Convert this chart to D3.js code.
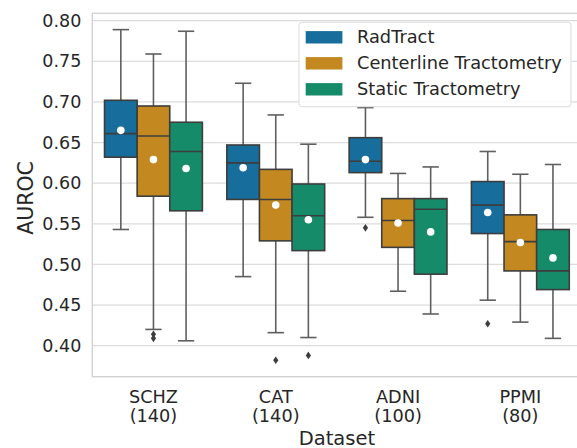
<!DOCTYPE html>
<html>
  <head>
    <meta charset="UTF-8" />
    <script src="https://cdn.jsdelivr.net/npm/d3@7"></script>
    <title>AUROC boxplot</title>
    <style type="text/css">
      body { margin: 0; background: #fff; }
      text { font-family: "DejaVu Sans", sans-serif; fill: #262626; }
    </style>
  </head>
  <body>
    <div id="chartcontainer"></div>
    <script>
      // datasets on the x axis and their sample sizes
      const datasets = ["SCHZ", "CAT", "ADNI", "PPMI"];
      const sizes = [140, 140, 100, 80];
      const methods = ["RadTract", "Centerline Tractometry", "Static Tractometry"];
      const colors = ["#176d9c", "#c38820", "#168b6a"];
      const yTicks = [0.4, 0.45, 0.5, 0.55, 0.6, 0.65, 0.7, 0.75, 0.8];

      // [lower whisker, q1, median, q3, upper whisker] per dataset
      const radTract = [
        [0.543, 0.632, 0.661, 0.702, 0.789],
        [0.485, 0.580, 0.625, 0.647, 0.723],
        [0.558, 0.613, 0.627, 0.656, 0.693],
        [0.456, 0.538, 0.573, 0.602, 0.639],
      ];
      const centerline = [
        [0.420, 0.584, 0.658, 0.695, 0.759],
        [0.416, 0.529, 0.580, 0.617, 0.684],
        [0.467, 0.521, 0.554, 0.581, 0.612],
        [0.429, 0.492, 0.528, 0.561, 0.611],
      ];
      const staticTract = [
        [0.406, 0.566, 0.639, 0.675, 0.787],
        [0.410, 0.517, 0.560, 0.599, 0.648],
        [0.439, 0.488, 0.568, 0.581, 0.620],
        [0.409, 0.469, 0.492, 0.543, 0.623],
      ];
      const radTractMeans = [0.665, 0.619, 0.629, 0.564];
      const centerlineMeans = [0.629, 0.573, 0.551, 0.527];
      const staticMeans = [0.618, 0.555, 0.540, 0.508];
      const radTractOutliers = [[], [], [0.545], [0.427]];
      const centerlineOutliers = [[0.414, 0.409], [0.382], [], []];
      const staticOutliers = [[], [0.388], [], []];

      const stats = [radTract, centerline, staticTract];
      const means = [radTractMeans, centerlineMeans, staticMeans];
      const outliers = [radTractOutliers, centerlineOutliers, staticOutliers];

      const W = 577, H = 448;
      const margin = { top: 13.3, left: 92.3 };
      const width = 489.2, height = 363.4;

      const svg = d3
        .select("#chartcontainer")
        .append("svg")
        .attr("width", W)
        .attr("height", H);

      const g = svg
        .append("g")
        .attr("transform", "translate(" + margin.left + "," + margin.top + ")");

      const x = d3.scaleBand().domain(datasets).range([0, width]);
      const xm = d3
        .scaleBand()
        .domain(methods)
        .range([x.bandwidth() * 0.1, x.bandwidth() * 0.9]);
      const y = d3.scaleLinear().domain([0.3618, 0.8091]).range([height, 0]);

      // grid
      g.selectAll(".grid")
        .data(yTicks)
        .enter()
        .append("line")
        .attr("x1", 0)
        .attr("x2", width)
        .attr("y1", (d) => y(d))
        .attr("y2", (d) => y(d))
        .attr("stroke", "#dcdcdc")
        .attr("stroke-width", 1.2);

      // frame
      g.append("rect")
        .attr("x", 0)
        .attr("y", 0)
        .attr("width", width)
        .attr("height", height)
        .attr("fill", "none")
        .attr("stroke", "#d0d0d0")
        .attr("stroke-width", 1.3);

      // y axis
      const yAxis = g
        .append("g")
        .call(d3.axisLeft(y).tickValues(yTicks).tickFormat(d3.format(".2f")).tickSize(0).tickPadding(11));
      yAxis.select(".domain").remove();
      yAxis.selectAll("text").style("font-size", "17.5px").style("fill", "#262626");

      // x axis
      const xAxis = g
        .append("g")
        .attr("transform", "translate(0," + height + ")")
        .call(d3.axisBottom(x).tickSize(0).tickFormat(""));
      xAxis.select(".domain").remove();
      xAxis
        .selectAll(".tick")
        .append("text")
        .attr("text-anchor", "middle")
        .style("font-size", "17.7px")
        .each(function (d, i) {
          const t = d3.select(this);
          t.append("tspan").attr("x", 0).attr("y", 26).text(d);
          t.append("tspan").attr("x", 0).attr("y", 45.5).text("(" + sizes[i] + ")");
        });

      // axis titles
      g.append("text")
        .attr("x", width / 2)
        .attr("y", height + 68)
        .attr("text-anchor", "middle")
        .style("font-size", "19.5px")
        .text("Dataset");
      g.append("text")
        .attr("transform", "translate(" + (-59) + "," + (height / 2 + 3) + ") rotate(-90)")
        .attr("text-anchor", "middle")
        .style("font-size", "20.5px")
        .text("AUROC");

      // boxes
      methods.forEach(function (m, mi) {
        datasets.forEach(function (ds, di) {
          const s = stats[mi][di];
          const x0 = x(ds) + xm(m);
          const bw = xm.bandwidth();
          const cx = x0 + bw / 2;
          const box = g.append("g");
          // whiskers
          box.append("line")
            .attr("x1", cx).attr("x2", cx)
            .attr("y1", y(s[0])).attr("y2", y(s[1]))
            .attr("stroke", "#5f5f5f").attr("stroke-width", 1.6);
          box.append("line")
            .attr("x1", cx).attr("x2", cx)
            .attr("y1", y(s[3])).attr("y2", y(s[4]))
            .attr("stroke", "#5f5f5f").attr("stroke-width", 1.6);
          [s[0], s[4]].forEach(function (v) {
            box.append("line")
              .attr("x1", cx - bw / 4).attr("x2", cx + bw / 4)
              .attr("y1", y(v)).attr("y2", y(v))
              .attr("stroke", "#5f5f5f").attr("stroke-width", 1.6);
          });
          box.append("rect")
            .attr("x", x0)
            .attr("y", y(s[3]))
            .attr("width", bw)
            .attr("height", y(s[1]) - y(s[3]))
            .attr("fill", colors[mi])
            .attr("stroke", "#3d3d3d")
            .attr("stroke-width", 1.6);
          box.append("line")
            .attr("x1", x0).attr("x2", x0 + bw)
            .attr("y1", y(s[2])).attr("y2", y(s[2]))
            .attr("stroke", "#3d3d3d").attr("stroke-width", 1.6);
          box.append("circle")
            .attr("cx", cx)
            .attr("cy", y(means[mi][di]))
            .attr("r", 3.8)
            .attr("fill", "#fff");
          outliers[mi][di].forEach(function (v) {
            const oy = y(v);
            box.append("path")
              .attr("d", "M" + cx + "," + (oy - 3.8) + "L" + (cx + 2.6) + "," + oy + "L" + cx + "," + (oy + 3.8) + "L" + (cx - 2.6) + "," + oy + "Z")
              .attr("fill", "#3d3d3d");
          });
        });
      });

      // legend
      const leg = svg.append("g").attr("transform", "translate(299,22.3)");
      leg.append("rect")
        .attr("width", 272)
        .attr("height", 84.4)
        .attr("rx", 3)
        .attr("fill", "#fff")
        .attr("fill-opacity", 0.85)
        .attr("stroke", "#dcdcdc");
      methods.forEach(function (m, i) {
        const ry = 15 + i * 26;
        leg.append("rect")
          .attr("x", 6.7)
          .attr("y", ry - 6.2)
          .attr("width", 36.7)
          .attr("height", 12.4)
          .attr("fill", colors[i]);
        leg.append("text")
          .attr("x", 58)
          .attr("y", ry + 6)
          .style("font-size", "17.8px")
          .text(m);
      });
    </script>
  </body>
</html>
